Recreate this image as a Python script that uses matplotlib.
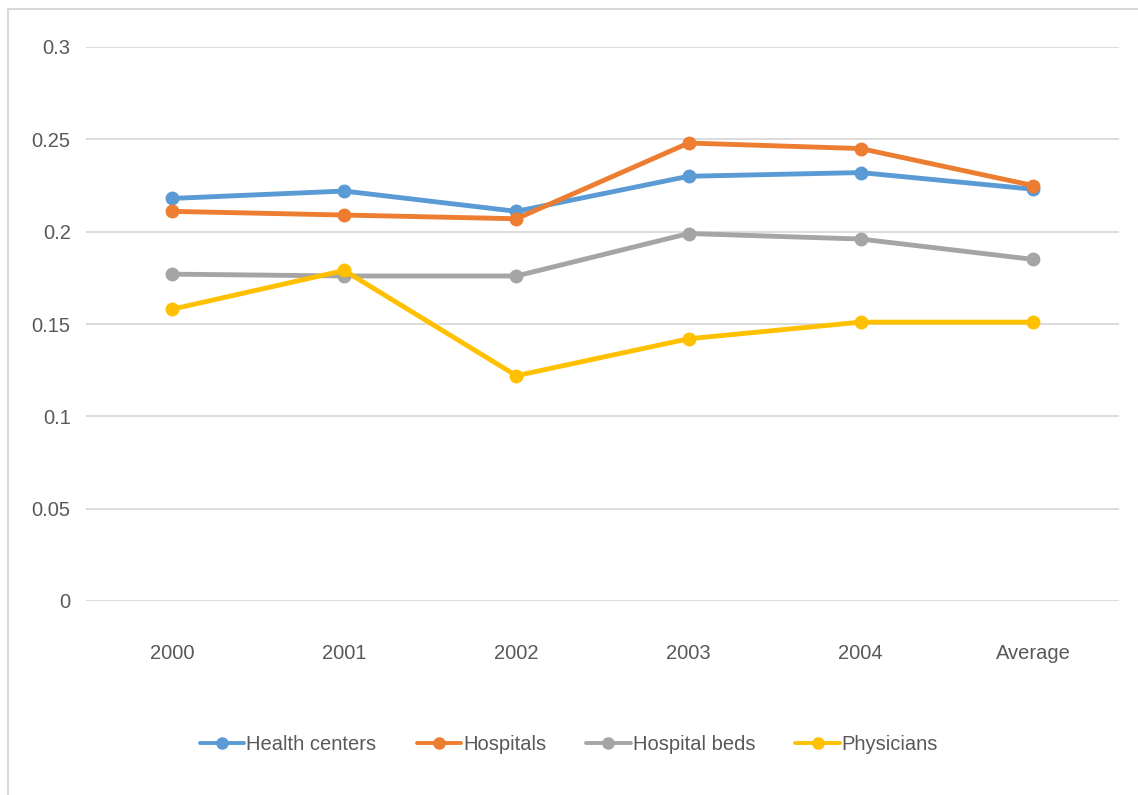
import matplotlib.pyplot as plt
from matplotlib.lines import Line2D

categories = ["2000", "2001", "2002", "2003", "2004", "Average"]

health_centers = [0.218, 0.222, 0.211, 0.230, 0.232, 0.223]
hospitals = [0.211, 0.209, 0.207, 0.248, 0.245, 0.225]
hospital_beds = [0.177, 0.176, 0.176, 0.199, 0.196, 0.185]
physicians = [0.158, 0.179, 0.122, 0.142, 0.151, 0.151]

series = [
    ("Health centers", health_centers, "#5B9BD5"),
    ("Hospitals", hospitals, "#ED7D31"),
    ("Hospital beds", hospital_beds, "#A5A5A5"),
    ("Physicians", physicians, "#FFC000"),
]

y_ticks = [0, 0.05, 0.1, 0.15, 0.2, 0.25, 0.3]
y_tick_labels = ["0", "0.05", "0.1", "0.15", "0.2", "0.25", "0.3"]

plt.rcParams["font.family"] = ["Liberation Sans", "DejaVu Sans"]

fig = plt.figure(figsize=(11.38, 7.95), dpi=100)
ax = fig.add_axes([86 / 1138, 1 - 601 / 795, (1119 - 86) / 1138, (601 - 47) / 795])

x = list(range(len(categories)))
for name, vals, col in series:
    ax.plot(x, vals, color=col, lw=3.5, marker="o", ms=9, label=name,
            solid_joinstyle="round", solid_capstyle="round")

ax.set_xlim(-0.5, len(categories) - 0.5)
ax.set_ylim(0, 0.3)
ax.set_xticks(x)
ax.set_xticklabels(categories)
ax.set_yticks(y_ticks)
ax.set_yticklabels(y_tick_labels)
ax.tick_params(axis="both", length=0, labelsize=14.5, labelcolor="#595959")
ax.tick_params(axis="x", pad=31)
ax.tick_params(axis="y", pad=11)
ax.grid(axis="y", color="#D9D9D9", lw=1.3)
ax.set_axisbelow(True)
for s in ax.spines.values():
    s.set_visible(False)

leg = fig.legend(loc="center", bbox_to_anchor=(0.5, 1 - 745 / 795), ncol=4,
                 frameon=False, fontsize=14.5, handlelength=2.2, handletextpad=0.1,
                 columnspacing=2.0, labelcolor="#595959")
for h in leg.legend_handles:
    h.set_linewidth(2.8)
    h.set_markersize(8)

# outer chart frame (top and left edges)
fig.add_artist(Line2D([8 / 1138, 1], [1 - 9 / 795, 1 - 9 / 795],
                      transform=fig.transFigure, color="#D9D9D9", lw=1.5))
fig.add_artist(Line2D([8 / 1138, 8 / 1138], [0, 1 - 9 / 795],
                      transform=fig.transFigure, color="#D9D9D9", lw=1.5))

fig.savefig("out.png", dpi=100)
